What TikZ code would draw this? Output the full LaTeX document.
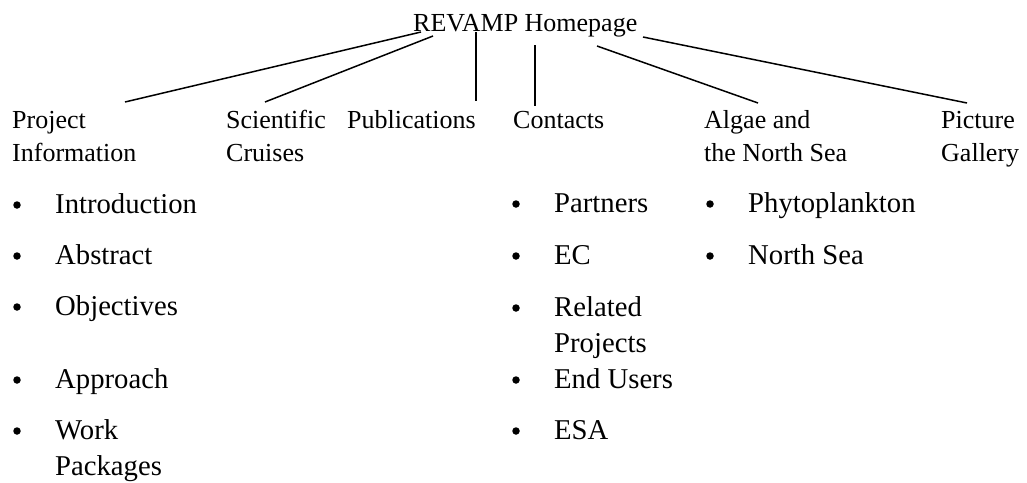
\documentclass[tikz,border=0pt]{standalone}
\usepackage{fontspec}
\setmainfont{Liberation Serif}
\usetikzlibrary{calc}
\begin{document}
\begin{tikzpicture}[x=1pt,y=-1pt,
  lab/.style={anchor=base west,inner sep=0pt,align=left,font=\fontsize{26}{33}\selectfont},
  item/.style={anchor=base west,inner sep=0pt,align=left,font=\fontsize{28.7}{36}\selectfont},
  link/.style={line width=1.5pt},
  dot/.style={circle,fill,inner sep=0pt,minimum size=7.5pt}]
\useasboundingbox (0,0) rectangle (1027,482);
% top
\node[lab] (home) at (413,31) {REVAMP Homepage};
% second level (base = baseline of last line)
\node[lab] (proj) at (12,161) {Project\\Information};
\node[lab] (sci)  at (226,161) {Scientific\\Cruises};
\node[lab] (pub)  at (347,128) {Publications};
\node[lab] (cont) at (513,128) {Contacts};
\node[lab] (alg)  at (704,161) {Algae and\\the North Sea};
\node[lab] (pic)  at (941,161) {Picture\\Gallery};
% connectors
\draw[link] ($(home.base west)+(8,1)$)   -- ($(proj.base west)+(113,-59)$);
\draw[link] ($(home.base west)+(20,5)$)  -- ($(sci.base west)+(39,-59)$);
\draw[link] ($(home.base west)+(63,1)$)  -- ($(pub.base west)+(129,-27)$);
\draw[link] ($(home.base west)+(122,14)$) -- ($(cont.base west)+(22,-22)$);
\draw[link] ($(home.base west)+(184,15)$) -- ($(alg.base west)+(54,-58)$);
\draw[link] ($(home.base west)+(230,6)$)  -- ($(pic.base west)+(26,-58)$);
% project information items
\node[item] (intro) at (55,213) {Introduction};
\node[item] (abs)   at (55,264) {Abstract};
\node[item] (obj)   at (55,315) {Objectives};
\node[item] (appr)  at (55,388) {Approach};
\node[item] (work)  at (55,475) {Work\\Packages};
% contacts items
\node[item] (part) at (554,212) {Partners};
\node[item] (ec)   at (554,264) {EC};
\node[item] (rel)  at (554,352) {Related\\Projects};
\node[item] (endu) at (554,388) {End Users};
\node[item] (esa)  at (554,439) {ESA};
% algae items
\node[item] (phy) at (748,212) {Phytoplankton};
\node[item] (ns)  at (748,264) {North Sea};
% bullets
\foreach \n in {intro,abs,obj,appr,part,ec,endu,esa,phy,ns}
  \node[dot] at ($(\n.base west)+(-38,-8)$) {};
\foreach \n in {work,rel}
  \node[dot] at ($(\n.base west)+(-38,-44)$) {};
\end{tikzpicture}
\end{document}
